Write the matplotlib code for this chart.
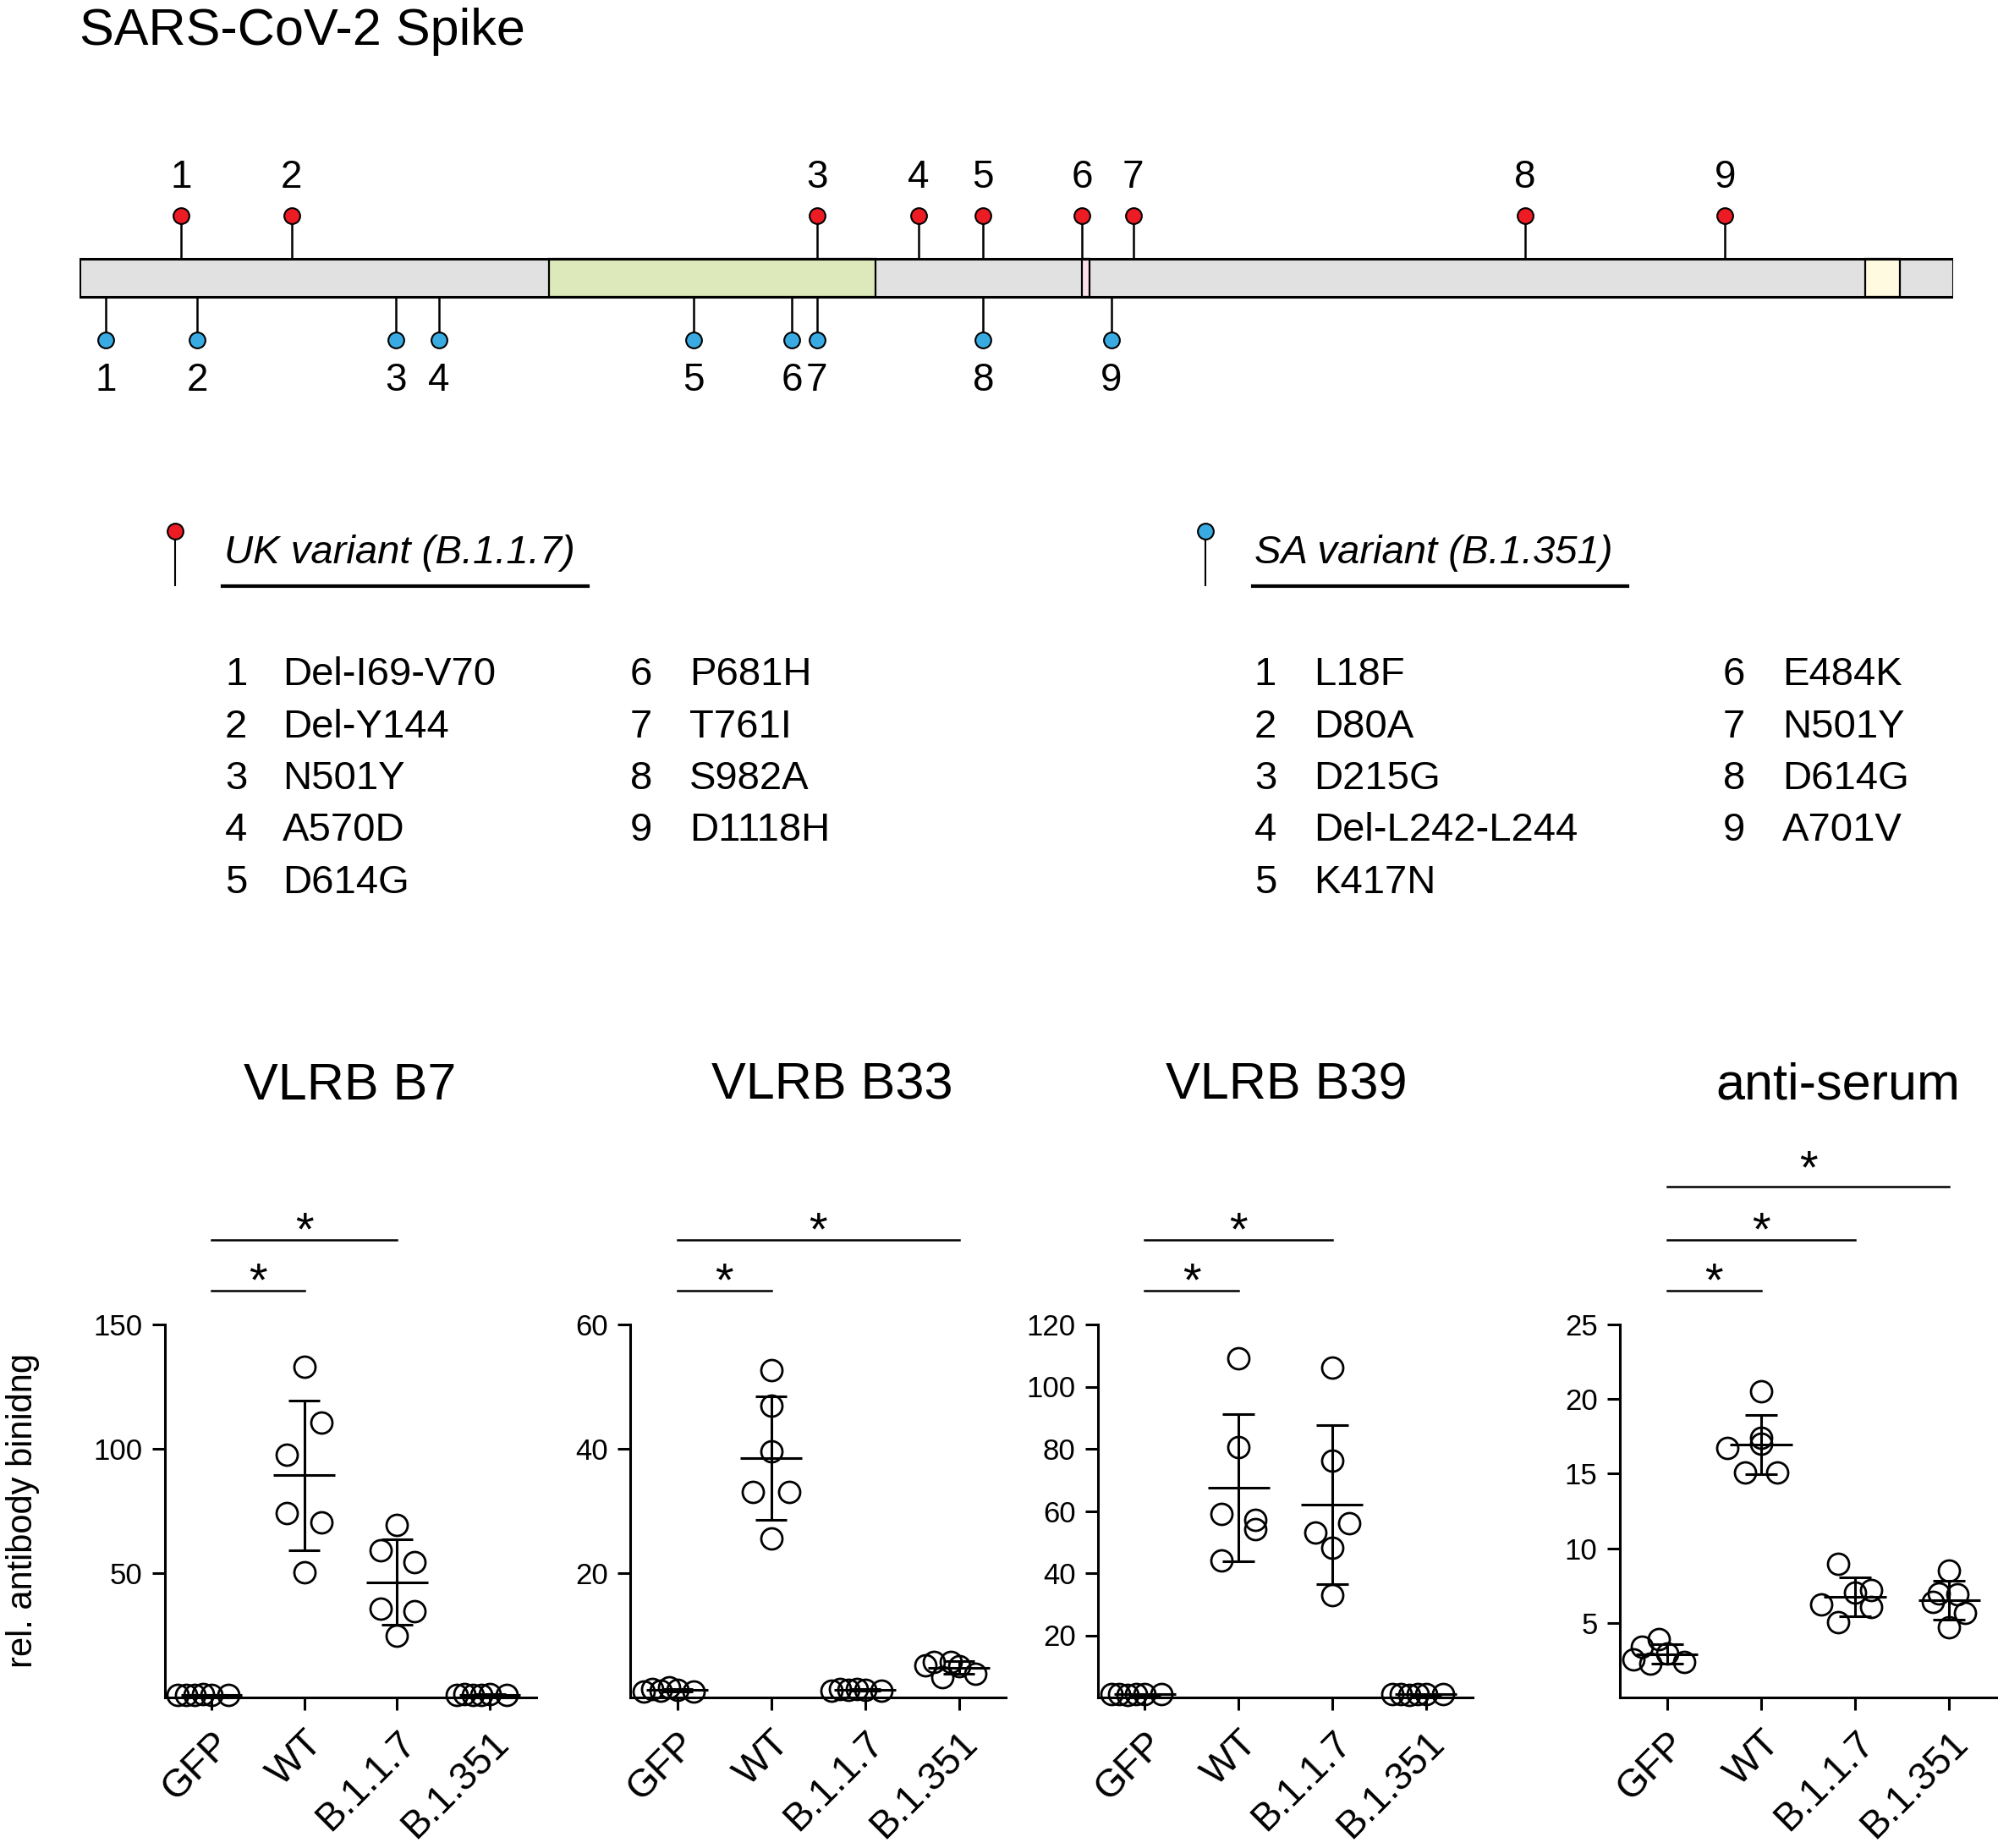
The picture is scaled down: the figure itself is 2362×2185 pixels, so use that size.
import matplotlib
matplotlib.use("Agg")
import matplotlib.pyplot as plt
import numpy as np
from matplotlib.patches import Rectangle
from matplotlib.transforms import blended_transform_factory

plt.rcParams["font.family"] = ["Liberation Sans", "DejaVu Sans"]

W_PX, H_PX = 2362, 2185

# --- spike protein map (residue numbers) ---
SPIKE_LENGTH = 1273
RBD = (319, 541)
FURIN = (681, 686)
TM = (1213, 1237)

UK_POS = [69, 144, 501, 570, 614, 681, 716, 982, 1118]
UK_MUT = ["Del-I69-V70", "Del-Y144", "N501Y", "A570D", "D614G",
          "P681H", "T761I", "S982A", "D1118H"]
SA_POS = [18, 80, 215, 244, 417, 484, 501, 614, 701]
SA_MUT = ["L18F", "D80A", "D215G", "Del-L242-L244", "K417N",
          "E484K", "N501Y", "D614G", "A701V"]

# --- binding assays ---
GROUPS = ["GFP", "WT", "B.1.1.7", "B.1.351"]
PANELS = ["VLRB B7", "VLRB B33", "VLRB B39", "anti-serum"]

B7_VALUES = [
    [1.0, 1.1, 0.9, 1.2, 1.0, 1.1],
    [133.1, 110.4, 97.5, 74.1, 70.4, 50.3],
    [69.5, 59.1, 54.5, 35.8, 34.6, 24.7],
    [1.0, 1.2, 0.9, 1.1, 1.3, 1.0],
]
B33_VALUES = [
    [1.0, 1.3, 1.1, 1.6, 1.2, 1.0],
    [52.7, 46.9, 39.6, 33.1, 33.1, 25.6],
    [1.1, 1.3, 1.2, 1.4, 1.2, 1.1],
    [5.2, 5.7, 3.3, 5.7, 5.0, 3.8],
]
B39_VALUES = [
    [1.0, 1.2, 0.9, 1.1, 1.0, 1.1],
    [109.1, 80.6, 59.1, 57.1, 54.1, 44.2],
    [106.1, 76.1, 56.1, 53.1, 48.2, 33.0],
    [1.0, 1.1, 0.9, 1.2, 1.0, 1.1],
]
SERUM_VALUES = [
    [2.56, 3.42, 2.24, 3.9, 2.97, 2.4],
    [20.5, 17.4, 17.0, 16.7, 15.1, 15.1],
    [8.95, 7.19, 7.03, 6.23, 6.07, 5.05],
    [8.5, 7.0, 6.43, 6.9, 5.68, 4.68],
]

# horizontal spread of the dots (category units), as arranged in the figure
ROW = [-0.36, -0.27, -0.18, -0.09, 0.0, 0.18]
B7_SPREAD = [ROW, [0, 0.19, -0.19, -0.19, 0.19, 0], [0, -0.18, 0.19, -0.18, 0.19, 0], ROW]
B33_SPREAD = [ROW, [0, 0, 0, -0.19, 0.19, 0], ROW, ROW]
B39_SPREAD = [ROW, [0, 0, -0.18, 0.18, 0.18, -0.18], [0, 0, 0.18, -0.18, 0, 0], ROW]
SERUM_SPREAD = [ROW, [0, 0, 0, -0.36, -0.17, 0.17],
                [-0.18, 0.17, 0, -0.36, 0.17, -0.18],
                [0, -0.11, -0.17, 0.09, 0.17, 0]]

YMAX = [150, 60, 120, 25]
YTICKS = [[50, 100, 150], [20, 40, 60], [20, 40, 60, 80, 100, 120], [5, 10, 15, 20, 25]]
SIG_PAIRS = [[(0, 1), (0, 2)], [(0, 1), (0, 3)], [(0, 1), (0, 2)], [(0, 1), (0, 2), (0, 3)]]

RED = "#ed1c24"
BLUE = "#3aaae2"

AX_TOP, AX_BOTTOM = 1566, 2007
AX_H = AX_BOTTOM - AX_TOP


def fx(x):
    return x / W_PX


def fy(y):
    return 1 - y / H_PX


def draw_spike(fig):
    ax = fig.add_axes([fx(94), fy(480), fx(2309 - 94), 330 / H_PX])
    ax.set_xlim(0, SPIKE_LENGTH)
    ax.set_ylim(480, 150)
    ax.axis("off")
    top, bot = 306, 351
    ax.add_patch(Rectangle((0, top), SPIKE_LENGTH, bot - top, fc="#e1e1e1", ec="none"))
    for (a, b), col in [(RBD, "#dde9ba"), (FURIN, "#fbe1e8"), (TM, "#fffae0")]:
        ax.add_patch(Rectangle((a, top), b - a, bot - top, fc=col, ec="black", lw=1.6))
    ax.add_patch(Rectangle((0, top), SPIKE_LENGTH, bot - top, fc="none", ec="black", lw=2.2))

    ax.vlines(UK_POS, 255, top, color="black", lw=1.8)
    ax.plot(UK_POS, [255] * len(UK_POS), "o", ms=13.5, mfc=RED, mec="black", mew=1.5)
    ax.vlines(SA_POS, bot, 402, color="black", lw=1.8)
    ax.plot(SA_POS, [402] * len(SA_POS), "o", ms=13.5, mfc=BLUE, mec="black", mew=1.5)
    for i, p in enumerate(UK_POS, 1):
        ax.text(p, 221.5, str(i), ha="center", va="baseline", fontsize=33)
    for i, p in enumerate(SA_POS, 1):
        ax.text(p, 462.5, str(i), ha="center", va="baseline", fontsize=33)


def draw_legend(cv, x_pin, x_head, x_num, x_name, col, title, muts, line_len):
    cv.plot([x_pin, x_pin], [628, 692], color="black", lw=1.5)
    cv.plot([x_pin], [628], "o", ms=13.5, mfc=col, mec="black", mew=1.5)
    cv.text(x_head, 666, title, fontsize=34, style="italic", ha="left", va="baseline")
    cv.plot([x_head - 2, x_head - 2 + line_len], [693, 693], color="black", lw=3)
    baselines = [810, 871.5, 933, 994.5, 1056]
    for i, m in enumerate(muts):
        c = 0 if i < 5 else 1
        y = baselines[i if i < 5 else i - 5]
        cv.text(x_num[c], y, str(i + 1), fontsize=34, ha="center", va="baseline")
        cv.text(x_name[c], y, m, fontsize=34, ha="left", va="baseline")


def draw_panel(fig, left, width, values, spread, ymax, ticks, pairs):
    ax = fig.add_axes([fx(left), fy(AX_BOTTOM), fx(width), AX_H / H_PX])
    for s in ["top", "right"]:
        ax.spines[s].set_visible(False)
    for s in ["left", "bottom"]:
        ax.spines[s].set_linewidth(2.2)
    ax.set_xlim(-0.5, 3.5)
    ax.set_ylim(0, ymax)
    ax.set_yticks(ticks)
    ax.set_xticks(range(len(GROUPS)))
    ax.set_xticklabels(GROUPS, rotation=45, ha="right", rotation_mode="anchor", fontsize=33)
    ax.tick_params(axis="both", direction="out", length=11, width=2.2, labelsize=25, pad=8)
    ax.tick_params(axis="x", labelsize=33, pad=12)

    for gi, (vals, sp) in enumerate(zip(values, spread)):
        vals = np.asarray(vals)
        ax.plot(gi + np.asarray(sp), vals, "o", ms=18, mfc="none", mec="black",
                mew=2.0, clip_on=False, zorder=3)
        m = vals.mean()
        sd = vals.std(ddof=1)
        ax.hlines(m, gi - 0.33, gi + 0.33, color="black", lw=2.2, zorder=4)
        ax.vlines(gi, m - sd, m + sd, color="black", lw=2.2, zorder=4)
        ax.hlines([m - sd, m + sd], gi - 0.17, gi + 0.17, color="black", lw=2.2, zorder=4)

    trans = blended_transform_factory(ax.transData, ax.transAxes)
    levels_px = [40, 100, 163]   # height of the bracket above the axes, px
    star_px = [0, 0, 10]         # extra lift of the asterisk
    for (i, j), lv, extra in zip(pairs, levels_px, star_px):
        yf = 1 + lv / AX_H
        ax.plot([i, j], [yf, yf], color="black", lw=1.8, transform=trans, clip_on=False)
        ax.text((i + j) / 2, yf + (extra - 5.5) / AX_H, "*", transform=trans,
                ha="center", va="baseline", fontsize=40)
    return ax


def main():
    fig = plt.figure(figsize=(W_PX / 100, H_PX / 100), dpi=100)

    cv = fig.add_axes([0, 0, 1, 1])
    cv.set_xlim(0, W_PX)
    cv.set_ylim(H_PX, 0)
    cv.axis("off")
    cv.text(94, 52.7, "SARS-CoV-2 Spike", fontsize=44, ha="left", va="baseline")

    draw_spike(fig)
    draw_legend(cv, 207, 265, [279, 758], [334, 815], RED, "UK variant (B.1.1.7)", UK_MUT, 432)
    draw_legend(cv, 1425, 1483, [1496, 2050], [1553, 2107], BLUE, "SA variant (B.1.351)",
                SA_MUT, 443)

    lefts = [195, 745, 1298, 1915]
    widths = [439, 444, 443, 445]
    all_values = [B7_VALUES, B33_VALUES, B39_VALUES, SERUM_VALUES]
    all_spread = [B7_SPREAD, B33_SPREAD, B39_SPREAD, SERUM_SPREAD]
    for k in range(4):
        draw_panel(fig, lefts[k], widths[k], all_values[k], all_spread[k],
                   YMAX[k], YTICKS[k], SIG_PAIRS[k])

    title_x = [414, 984, 1521, 2173]
    for name, x in zip(PANELS, title_x):
        cv.text(x, 1300, name, fontsize=44, ha="center", va="baseline")
    cv.text(27, 1786, "rel. antibody binidng", fontsize=30, rotation=90,
            ha="center", va="center")

    fig.savefig("out.png", dpi=100)


if __name__ == "__main__":
    main()
